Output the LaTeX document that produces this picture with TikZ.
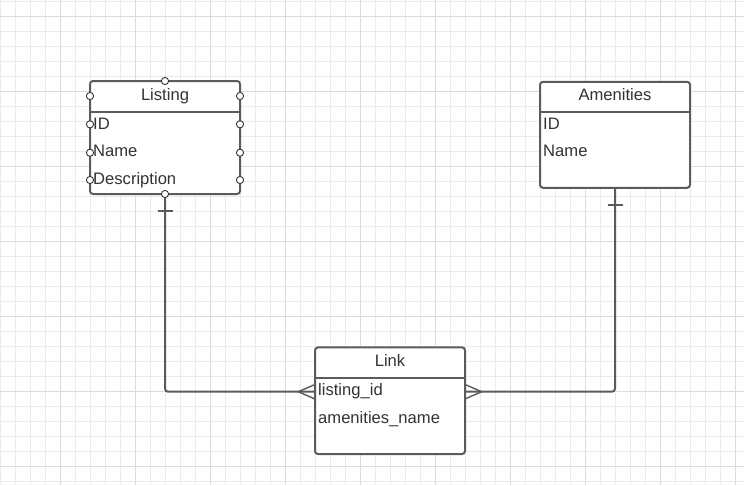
\documentclass[tikz,border=0pt]{standalone}
\usepackage{fontspec}
\setmainfont{Liberation Sans}
\definecolor{gridminor}{HTML}{EBEBEB}
\definecolor{gridmajor}{HTML}{DCDCDC}
\definecolor{boxline}{HTML}{5B5B5B}
\definecolor{txt}{HTML}{333333}
\tikzset{
  tablebox/.style={draw=boxline, line width=2pt, rounded corners=3pt, fill=white, inner sep=0pt, minimum width=150pt},
  ttl/.style={anchor=base, inner sep=0pt, text=txt, font=\fontsize{16.6}{19}\selectfont},
  rowtxt/.style={anchor=base west, inner sep=0pt, text=txt, font=\fontsize{16.6}{19}\selectfont},
  sepline/.style={draw=boxline, line width=2pt},
  conn/.style={draw=boxline, line width=2pt, rounded corners=3pt},
  crow/.style={draw=boxline, line width=1.4pt},
  pin/.style={circle, draw=txt, fill=white, line width=0.9pt, inner sep=0pt, minimum size=7.2pt}
}
\begin{document}
\begin{tikzpicture}[x=1pt,y=-1pt]
\useasboundingbox (0,0) rectangle (744,485);
\fill[white] (0,0) rectangle (744,485);
% grid
\foreach \i in {0,...,49} {
  \draw[gridminor, line width=1pt] ({0.7+15*\i},0) -- ({0.7+15*\i},485);
}
\foreach \j in {0,...,32} {
  \draw[gridminor, line width=1pt] (0,{1.7+15*\j}) -- (744,{1.7+15*\j});
}
\foreach \i in {0,...,9} {
  \draw[gridmajor, line width=1pt] ({60.7+75*\i},0) -- ({60.7+75*\i},485);
}
\foreach \j in {0,...,6} {
  \draw[gridmajor, line width=1pt] (0,{16.7+75*\j}) -- (744,{16.7+75*\j});
}
% connectors
\coordinate (lkL) at (315,391.7);
\coordinate (lkR) at (465,391.7);
\coordinate (lsB) at (165,194);
\coordinate (amB) at (615,187.7);
\draw[conn] (lsB) -- (lsB |- lkL) -- (lkL);
\draw[conn] (amB) -- (amB |- lkR) -- (lkR);
% one bars
\coordinate (bar1) at (165,210.5);
\coordinate (bar2) at (615,204.5);
\draw[conn] ([xshift=-7.5pt]bar1) -- ([xshift=7.5pt]bar1);
\draw[conn] ([xshift=-7.5pt]bar2) -- ([xshift=7.5pt]bar2);
% crow's feet
\coordinate (forkL) at (298.3,391.7);
\coordinate (forkR) at (481.7,391.7);
\draw[crow] (315,384.5) -- (forkL) -- (315,399);
\draw[crow] (465,384.5) -- (forkR) -- (465,399);
% Listing
\node[tablebox, minimum height=113pt] (listing) at (165,137.5) {};
\draw[sepline] (90,111.7) -- (240,111.7);
\node[ttl] (listingT) at (165,100) {Listing};
\node[rowtxt] (lsID) at (93,129) {ID};
\node[rowtxt] (lsName) at (93,156.8) {Name};
\node[rowtxt] (lsDesc) at (93,184.5) {Description};
\foreach \yy/\nm in {96/a,124.3/b,152.7/c,180/d} {
  \node[pin] (pl\nm) at (90,\yy) {};
  \node[pin] (pr\nm) at (240,\yy) {};
}
\node[pin] (ptop) at (165,81) {};
\node[pin] (pbot) at (165,194) {};
% Amenities
\node[tablebox, minimum height=106pt] (amen) at (615,134.8) {};
\draw[sepline] (540,111.7) -- (690,111.7);
\node[ttl] (amenT) at (615,100) {Amenities};
\node[rowtxt] (amID) at (543,129) {ID};
\node[rowtxt] (amName) at (543,156.8) {Name};
% Link
\node[tablebox, minimum height=106.7pt] (link) at (390,400.7) {};
\draw[sepline] (315,377.7) -- (465,377.7);
\node[ttl] (linkT) at (390,366.7) {Link};
\node[rowtxt] (lkID) at (318,395.5) {listing\_id};
\node[rowtxt] (lkName) at (318,423.3) {amenities\_name};
\end{tikzpicture}
\end{document}
